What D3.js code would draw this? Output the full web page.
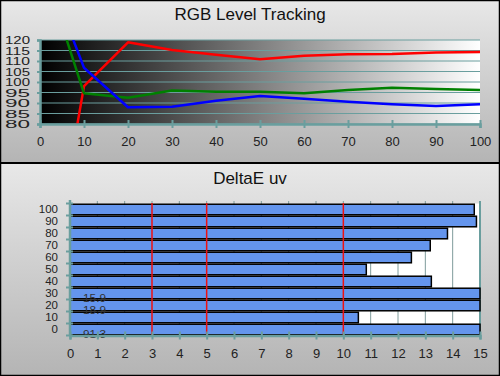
<!DOCTYPE html>
<html>
<head>
<meta charset="utf-8">
<script src="https://cdn.jsdelivr.net/npm/d3@7"></script>
<style>
  body { margin: 0; background: #fff; }
  svg { display: block; font-family: "Liberation Sans", Arial, sans-serif; }
</style>
</head>
<body>
<svg id="chart" width="500" height="376"></svg>
<script>
// ---- data ----
const levels = [5, 10, 20, 30, 40, 50, 60, 70, 80, 90, 100];
const redLevels   = [38, 98, 118.9, 115.2, 113, 110.8, 112.5, 113.2, 113.3, 114.1, 114.3];
const greenLevels = [127, 94.6, 92.5, 96, 95.4, 95.4, 94.6, 96.2, 97.3, 96.7, 96.2];
const blueLevels  = [134, 106.8, 88, 88.2, 91.1, 93.3, 92, 90.6, 89.4, 88.6, 89.4];
const levelTicks = [0, 10, 20, 30, 40, 50, 60, 70, 80, 90, 100];
const pctTicks = [80, 85, 90, 95, 100, 105, 110, 115, 120];

const deltaCats = ['100', '90', '80', '70', '60', '50', '40', '30', '20', '10', '0'];
const deltaVals = [14.79, 14.87, 13.81, 13.18, 12.49, 10.84, 13.22, 15.9, 18.9, 10.55, 91.3];
const deltaTicks = [0, 1, 2, 3, 4, 5, 6, 7, 8, 9, 10, 11, 12, 13, 14, 15];
const refLines = [3, 5, 10];

const teal = '#6a9e9e';
const svg = d3.select('#chart');
const defs = svg.append('defs');

// panel backgrounds
const pg = defs.append('linearGradient').attr('id', 'panelGrad')
    .attr('x1', 0).attr('y1', 0).attr('x2', 0).attr('y2', 1);
pg.append('stop').attr('offset', '0%').attr('stop-color', '#e8e8e8');
pg.append('stop').attr('offset', '100%').attr('stop-color', '#b4b4b4');

const bw = defs.append('linearGradient').attr('id', 'bwGrad')
    .attr('x1', 0).attr('y1', 0).attr('x2', 1).attr('y2', 0);
bw.append('stop').attr('offset', '0%').attr('stop-color', '#000');
bw.append('stop').attr('offset', '100%').attr('stop-color', '#fff');

svg.append('rect').attr('x', 0).attr('y', 0).attr('width', 500).attr('height', 163)
    .attr('fill', 'url(#panelGrad)');
svg.append('rect').attr('x', 0).attr('y', 163).attr('width', 500).attr('height', 213)
    .attr('fill', 'url(#panelGrad)');

// ================= top: RGB level tracking =================
const x1 = d3.scaleLinear().domain([0, 100]).range([40, 480]);
const y1 = d3.scaleLinear().domain([80, 120]).range([124, 40]);

svg.append('text').attr('x', 250).attr('y', 20).attr('text-anchor', 'middle')
    .attr('font-size', 17).attr('fill', '#111').text('RGB Level Tracking');

svg.append('rect').attr('x', x1(0)).attr('y', y1(120))
    .attr('width', x1(100) - x1(0)).attr('height', y1(80) - y1(120))
    .attr('fill', 'url(#bwGrad)');

// horizontal grid
svg.append('g').selectAll('line').data(pctTicks).join('line')
    .attr('x1', x1(0)).attr('x2', x1(100))
    .attr('y1', d => y1(d)).attr('y2', d => y1(d))
    .attr('stroke', teal).attr('stroke-width', 1);

defs.append('clipPath').attr('id', 'clipTop').append('rect')
    .attr('x', x1(0)).attr('y', y1(120)).attr('width', x1(100) - x1(0)).attr('height', y1(80) - y1(120));

const line = d3.line().x((d, i) => x1(levels[i])).y(d => y1(d));
const series = [
  { vals: redLevels, color: '#ff0000' },
  { vals: greenLevels, color: '#008000' },
  { vals: blueLevels, color: '#0000ff' }
];
svg.append('g').attr('clip-path', 'url(#clipTop)')
    .selectAll('path').data(series).join('path')
    .attr('d', d => line(d.vals))
    .attr('fill', 'none').attr('stroke', d => d.color).attr('stroke-width', 2.5)
    .attr('stroke-linejoin', 'round');

// axes
const xAxisTop = svg.append('g').attr('transform', `translate(0,${y1(80)})`)
    .call(d3.axisBottom(x1).tickValues(levelTicks).tickSize(4).tickPadding(9));
xAxisTop.selectAll('.tick line').attr('y1', -4).attr('stroke-width', 2);
const yAxisTop = svg.append('g').attr('transform', `translate(${x1(0)},0)`)
    .call(d3.axisLeft(y1).tickValues(pctTicks).tickSize(3).tickPadding(7));
yAxisTop.selectAll('.tick line').attr('stroke-width', 2);
yAxisTop.selectAll('.tick text')
    .attr('font-size', 10)
    .attr('textLength', 25).attr('lengthAdjust', 'spacingAndGlyphs')
    .attr('dy', '0.36em');
[xAxisTop, yAxisTop].forEach(g => {
  g.select('.domain').attr('stroke', teal).attr('stroke-width', 2.5);
  g.selectAll('.tick line').attr('stroke', teal);
  g.selectAll('.tick text').attr('fill', '#222');
});
xAxisTop.selectAll('.tick text').attr('font-size', 13);

// ================= bottom: DeltaE uv =================
const x2 = d3.scaleLinear().domain([0, 15]).range([70, 480]);
const y2 = d3.scaleBand().domain(deltaCats).range([203.5, 335.5])
    .paddingInner(0.12).paddingOuter(0.06);

svg.append('text').attr('x', 250).attr('y', 184).attr('text-anchor', 'middle')
    .attr('font-size', 17).attr('fill', '#111').text('DeltaE uv');

svg.append('rect').attr('x', x2(0)).attr('y', 203.5)
    .attr('width', x2(15) - x2(0)).attr('height', 132).attr('fill', '#fff');

// vertical grid
svg.append('g').selectAll('line').data(deltaTicks.slice(1)).join('line')
    .attr('x1', d => x2(d)).attr('x2', d => x2(d))
    .attr('y1', 201).attr('y2', 335.5)
    .attr('stroke', d => d === 15 ? teal : '#7f9c9c').attr('stroke-width', d => d === 15 ? 2 : 1);

// bars
svg.append('g').selectAll('rect').data(deltaVals).join('rect')
    .attr('x', x2(0))
    .attr('y', (d, i) => y2(deltaCats[i]))
    .attr('width', d => x2(Math.min(d, 15)) - x2(0))
    .attr('height', y2.bandwidth())
    .attr('fill', '#6495ed').attr('stroke', '#000').attr('stroke-width', 1.5);

// reference lines
svg.append('g').selectAll('line').data(refLines).join('line')
    .attr('x1', d => x2(d)).attr('x2', d => x2(d))
    .attr('y1', 203).attr('y2', 335.5)
    .attr('stroke', '#ee1111').attr('stroke-width', 1.5);

// labels for clipped bars
svg.append('g').selectAll('text').data(deltaVals.map((v, i) => ({ v, c: deltaCats[i] })).filter(d => d.v > 15))
    .join('text')
    .attr('x', 83).attr('y', d => y2(d.c) + y2.bandwidth() / 2 + 8)
    .attr('font-size', 11).attr('fill', '#333')
    .attr('textLength', 23).attr('lengthAdjust', 'spacingAndGlyphs')
    .text(d => d.v.toFixed(1));

const xAxisBot = svg.append('g').attr('transform', 'translate(0,335.5)')
    .call(d3.axisBottom(x2).tickValues(deltaTicks).tickSize(4).tickPadding(9));
xAxisBot.selectAll('.tick line').attr('y1', -4).attr('stroke-width', 2);
xAxisBot.selectAll('.tick text').attr('font-size', 13);

const yAxisBot = svg.append('g').attr('transform', `translate(${x2(0)},0)`);
yAxisBot.append('line').attr('x1', 0).attr('x2', 0).attr('y1', 200).attr('y2', 335.5)
    .attr('stroke', teal).attr('stroke-width', 2.5);
yAxisBot.selectAll('.edge').data(d3.range(deltaCats.length + 1)).join('line')
    .attr('class', 'edge')
    .attr('x1', -4).attr('x2', 3)
    .attr('y1', i => 203.5 + i * (132 / 11)).attr('y2', i => 203.5 + i * (132 / 11))
    .attr('stroke', teal).attr('stroke-width', 2);
yAxisBot.selectAll('text').data(deltaCats).join('text')
    .attr('x', -12).attr('y', d => y2(d) + y2.bandwidth() / 2)
    .attr('dy', '0.36em').attr('text-anchor', 'end')
    .attr('font-size', 11).attr('fill', '#222')
    .attr('textLength', d => d.length * 6.4).attr('lengthAdjust', 'spacingAndGlyphs')
    .text(d => d);

xAxisBot.select('.domain').attr('stroke', teal).attr('stroke-width', 2.5);
xAxisBot.selectAll('.tick line').attr('stroke', teal);
xAxisBot.selectAll('.tick text').attr('fill', '#222');

// separators and frame
svg.append('line').attr('x1', 0).attr('x2', 500).attr('y1', 163).attr('y2', 163)
    .attr('stroke', '#000').attr('stroke-width', 2);
svg.append('rect').attr('x', 0.5).attr('y', 0.5).attr('width', 499).attr('height', 375)
    .attr('fill', 'none').attr('stroke', '#000').attr('stroke-width', 1.5);
</script>
</body>
</html>
